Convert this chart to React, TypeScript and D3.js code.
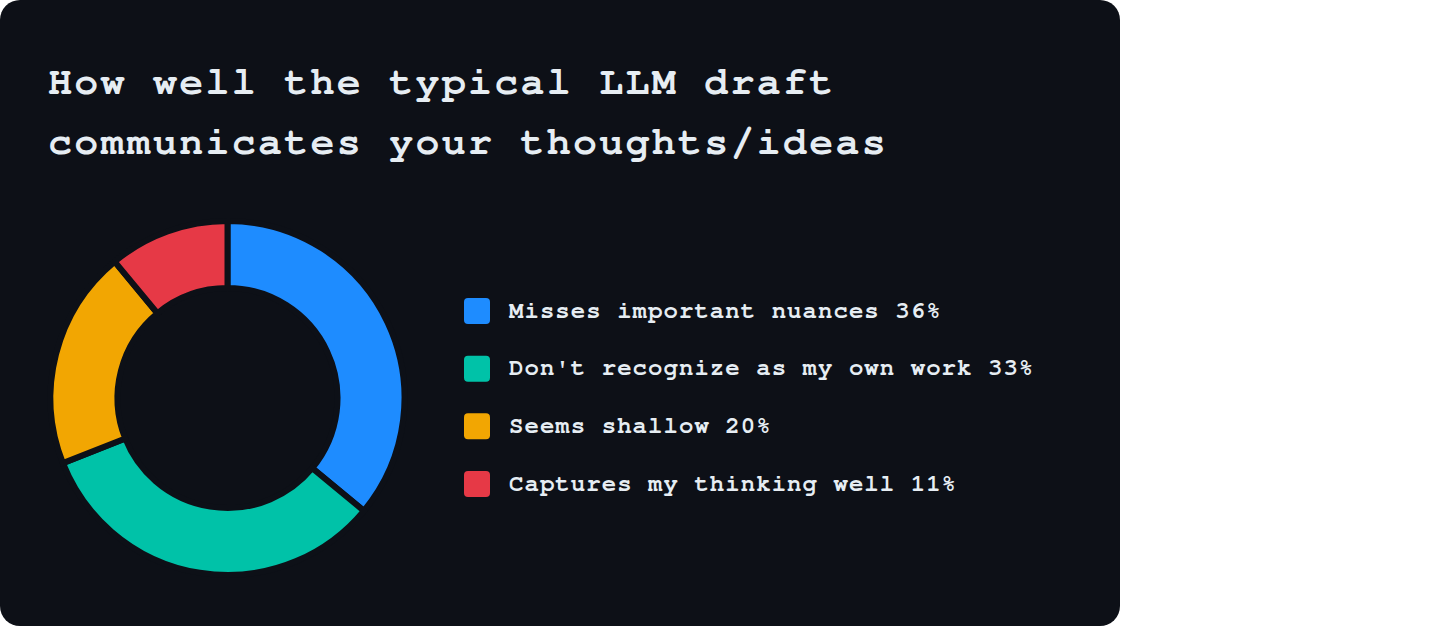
import React, { useEffect, useRef } from 'react';
import * as d3 from 'd3';

const titleLines = ['How well the typical LLM draft', 'communicates your thoughts/ideas'];
const categories = [
  'Misses important nuances',
  "Don't recognize as my own work",
  'Seems shallow',
  'Captures my thinking well',
];
const shares = [36, 33, 20, 11];
const colors = ['#1e8cff', '#00c2a8', '#f2a602', '#e63946'];

const WIDTH = 1440;
const HEIGHT = 626;
const CARD_W = 1120;
const BG = '#0d1017';
const TEXT = '#e6edf3';
const FONT = 'FreeMono, "Courier New", Courier, monospace';

const App: React.FC = () => {
  const svgRef = useRef<SVGSVGElement | null>(null);

  useEffect(() => {
    if (!svgRef.current) return;
    const svg = d3.select(svgRef.current);
    svg.selectAll('*').remove();

    // Card background
    svg.append('rect')
      .attr('x', 0)
      .attr('y', 0)
      .attr('width', CARD_W)
      .attr('height', HEIGHT)
      .attr('rx', 20)
      .attr('fill', BG);

    // Title
    const title = svg.append('text')
      .attr('font-family', FONT)
      .attr('font-weight', 'bold')
      .attr('font-size', 40)
      .attr('letter-spacing', 2.25)
      .attr('fill', TEXT);
    titleLines.forEach((line, i) => {
      title.append('tspan')
        .attr('x', 48)
        .attr('y', 93.5 + i * 60)
        .text(line);
    });

    // Donut
    const data = categories.map((c, i) => ({ label: c, value: shares[i], color: colors[i] }));
    const pie = d3.pie<any>().value(d => d.value).sort(null);
    const arc = d3.arc<any>().innerRadius(110).outerRadius(177);

    const donut = svg.append('g').attr('transform', 'translate(227.5,398)');
    donut.selectAll('path')
      .data(pie(data))
      .enter()
      .append('path')
      .attr('d', arc)
      .attr('fill', d => d.data.color)
      .attr('stroke', BG)
      .attr('stroke-width', 6);

    // Legend
    const y = d3.scalePoint<string>()
      .domain(categories)
      .range([311, 484]);

    const legend = svg.append('g');
    data.forEach(d => {
      const cy = y(d.label) || 0;
      legend.append('rect')
        .attr('x', 464)
        .attr('y', cy - 13)
        .attr('width', 26)
        .attr('height', 26)
        .attr('rx', 4)
        .attr('fill', d.color);
      legend.append('text')
        .attr('x', 509)
        .attr('y', cy + 6.5)
        .attr('font-family', FONT)
        .attr('font-weight', 'bold')
        .attr('font-size', 24)
        .attr('letter-spacing', 1.05)
        .attr('fill', TEXT)
        .text(`${d.label} ${d.value}%`);
    });
  }, []);

  return (
    <div style={{ position: 'fixed', left: 0, top: 0, width: WIDTH, height: HEIGHT, background: '#fff' }}>
      <svg ref={svgRef} width={WIDTH} height={HEIGHT} style={{ display: 'block' }} />
    </div>
  );
};

export default App;
